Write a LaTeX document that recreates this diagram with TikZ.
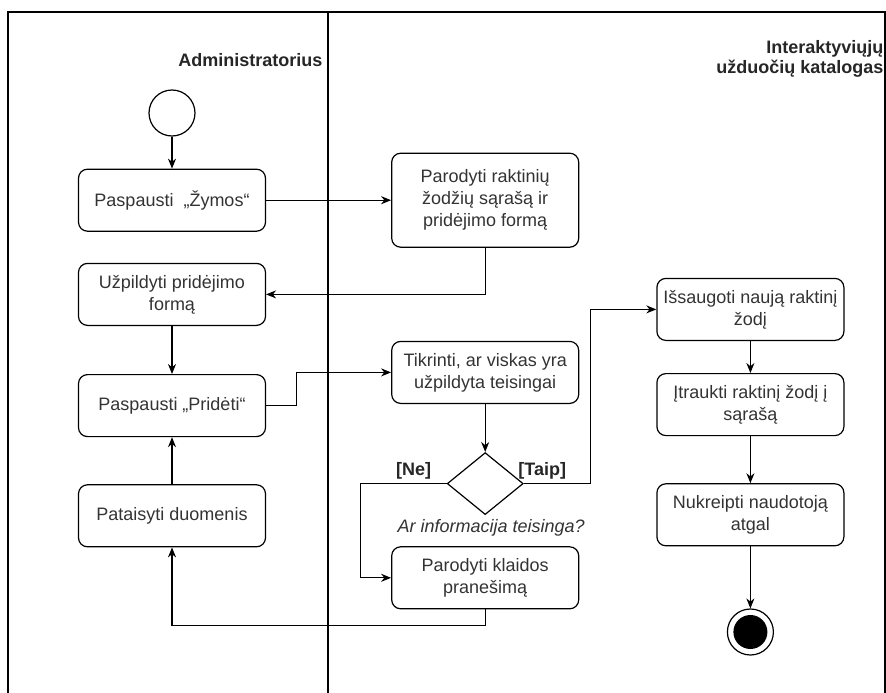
\documentclass[tikz,border=0pt]{standalone}
\usepackage{fontspec}
\setmainfont{Liberation Sans}
\usetikzlibrary{arrows.meta,positioning,shapes.geometric}

\begin{document}
\begin{tikzpicture}[x=1pt, y=1pt, >={Stealth[length=10pt,width=8pt]}, line width=1.1pt]
\tikzstyle{action} = [rectangle, draw, rounded corners=9pt, align=center, minimum width=187pt, minimum height=62pt, inner sep=3pt, font=\fontsize{18}{22}\selectfont, text=black!80, line width=1.2pt]
\tikzstyle{choice} = [diamond, draw, minimum width=76pt, minimum height=62pt, inner sep=0pt, line width=1.2pt]
\tikzstyle{lane} = [font=\fontsize{18}{20}\selectfont\bfseries, text=black!85, align=right, inner sep=0pt, anchor=east]
\tikzstyle{guard} = [font=\fontsize{18}{22}\selectfont\bfseries, text=black!85, inner sep=1pt]
\tikzstyle{flow} = [draw, ->]

\useasboundingbox (0,0) rectangle (886,-693);

% Swimlane frame
\draw[line width=1.4pt] (8,-693) -- (8,-12) -- (885,-12) -- (885,-693);
\draw[line width=1.4pt] (328,-12) -- (328,-693);
\node[lane] (adminLane) at (323,-60) {Administratorius};
\node[lane] (catalogLane) at (884,-59) {Interaktyviųjų\\užduočių katalogas};

% Administrator lane
\node[circle, draw, line width=1.2pt, minimum size=46pt] (startNode) at (172,-113) {};
\node[action, below=32pt of startNode] (clickTags) {Paspausti\ \ „Žymos“};
\node[action, below=31pt of clickTags] (fillForm) {Užpildyti pridėjimo\\formą};
\node[action, below=48pt of fillForm] (clickAdd) {Paspausti „Pridėti“};
\node[action, below=47pt of clickAdd] (fixData) {Pataisyti duomenis};

% Catalog lane
\node[action, minimum height=94pt, right=125pt of clickTags] (showKeywords) {Parodyti raktinių\\žodžių sąrašą ir\\pridėjimo formą};
\node[action, below=93pt of showKeywords] (checkInput) {Tikrinti, ar viskas yra\\užpildyta teisingai};
\node[choice, below=48pt of checkInput] (isCorrect) {};
\node[font=\fontsize{18}{22}\selectfont\itshape, text=black!80, inner sep=1pt, below=3pt of isCorrect, xshift=6pt] (questionLabel) {Ar informacija teisinga?};
\node[action, below=31pt of isCorrect] (showError) {Parodyti klaidos\\pranešimą};
\node[action, right=77pt of checkInput, yshift=63pt] (saveKeyword) {Išsaugoti naują raktinį\\žodį};
\node[action, below=32pt of saveKeyword] (addToList) {Įtraukti raktinį žodį į\\sąrašą};
\node[action, below=47pt of addToList] (redirectUser) {Nukreipti naudotoją\\atgal};
\node[circle, draw, line width=1.2pt, minimum size=46pt, below=62pt of redirectUser] (endNode) {};
\fill (endNode.center) circle (17pt);

% Flows
\draw[flow] (startNode) -- (clickTags);
\draw[flow] (clickTags) -- (showKeywords);
\draw[flow] (showKeywords.south) |- (fillForm.east);
\draw[flow] (fillForm) -- (clickAdd);
\draw[flow] (clickAdd.east) -- ++(30,0) |- (checkInput.west);
\draw[flow] (checkInput) -- (isCorrect);
\draw[flow] (isCorrect.west) -- node[guard, pos=0, anchor=south east, xshift=-14pt, yshift=3pt] (noLabel) {[Ne]} ++(-86,0) |- (showError.west);
\draw[flow] (isCorrect.east) -- node[guard, pos=0, anchor=south west, xshift=-7pt, yshift=3pt] (yesLabel) {[Taip]} ++(67,0) |- (saveKeyword.west);
\draw[flow] (saveKeyword) -- (addToList);
\draw[flow] (addToList) -- (redirectUser);
\draw[flow] (redirectUser) -- (endNode);
\draw[flow] (showError.south) -- ++(0,-16) -| (fixData.south);
\draw[flow] (fixData) -- (clickAdd);

\end{tikzpicture}
\end{document}
